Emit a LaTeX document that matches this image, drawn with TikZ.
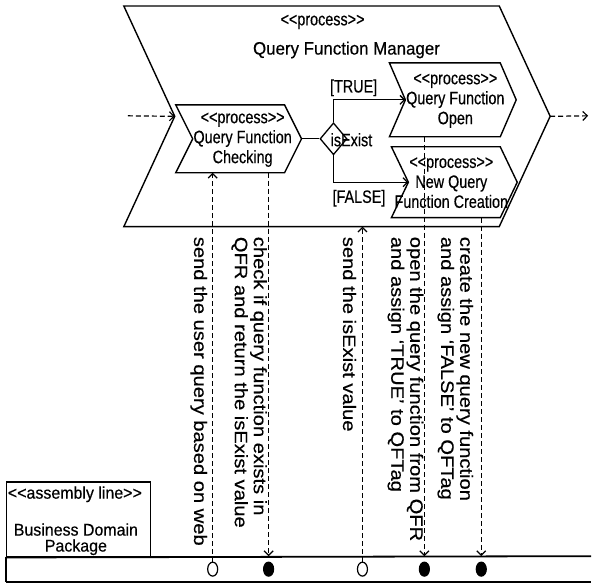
\documentclass[tikz,border=0pt]{standalone}
\usepackage{fontspec}
\setmainfont{Liberation Sans}
\newfontfamily\procfont[FakeStretch=0.8,FakeBold=0.4]{Liberation Sans}
\newfontfamily\titlefont[FakeStretch=0.94,FakeBold=0.4]{Liberation Sans}
\newfontfamily\notefont[FakeStretch=1.12,FakeBold=0.4]{Liberation Sans}
\usepackage{tikz}
\usetikzlibrary{arrows.meta,shapes.geometric,calc}
\newcommand{\stereo}[1]{<{}<#1>{}>}
\newcommand{\procshape}[2]{%
    \draw[proc] (#1.north west) -- (#1.north east) -- ($(#1.east)+(#2,0)$) coordinate (#1-tip)
        -- (#1.south east) -- (#1.south west) -- ($(#1.west)+(#2,0)$) coordinate (#1-notch) -- cycle;}

\begin{document}
\begin{tikzpicture}[x=1pt,y=-1pt,
        body/.style={rectangle,inner sep=0,outer sep=0},
        proc/.style={line width=1.4pt,line join=miter},
        proctxt/.style={font=\procfont\fontsize{18}{20}\selectfont,align=center,inner sep=0},
        flow/.style={line width=1.3pt,-{Straight Barb[length=4.5pt,width=9pt,line width=1.3pt]}},
        msg/.style={line width=1.2pt,dash pattern=on 5pt off 3pt,-{Straight Barb[length=4.5pt,width=9pt,line width=1.2pt]}},
        note/.style={rotate=-90,anchor=west,align=left,inner sep=0,font=\notefont\fontsize{18}{19}\selectfont},
        evt/.style={ellipse,draw,line width=1.2pt,minimum width=10pt,minimum height=14pt,inner sep=0,fill=white},
        lane/.style={line width=1.8pt}]
        \fill[white] (0,0) rectangle (592,586);
        \node[body,minimum width=376,minimum height=221] (mgr) at (312,116.5) {};
        \node[body,minimum width=109,minimum height=68] (chk) at (230.5,139) {};
        \node[body,minimum width=111,minimum height=74] (opn) at (445.5,100) {};
        \node[body,minimum width=109,minimum height=71] (crt) at (446.5,182.5) {};
        \procshape{mgr}{51}
        \procshape{chk}{17}
        \procshape{opn}{16}
        \procshape{crt}{17}
        \node[proctxt] (mgrst) at (323,22) {\stereo{process}};
        \node[inner sep=0,font=\titlefont\fontsize{18}{20}\selectfont] (mgrname) at (347,50) {Query Function Manager};
        \node[proctxt] (chkname) at (243,140) {\stereo{process}\\Query Function\\Checking};
        \node[proctxt] (opnname) at (456,101) {\stereo{process}\\Query Function\\Open};
        \node[proctxt] (crtname) at (452,183) {\stereo{process}\\New Query\\Function Creation};
        \node[draw,diamond,line width=1.3pt,minimum width=27,minimum height=32,inner sep=0] (isx) at (334,139) {};
        \node[proctxt,anchor=west] (isxname) at (331,140) {isExist};
        \draw[flow,-] (chk-tip) -- (isx.west);
        \draw[flow] (isx.north) |- (opn-notch) node[pos=0.64,above=3pt,proctxt] {[TRUE]};
        \draw[flow] (isx.south) |- (crt-notch) node[pos=0.67,below=7pt,proctxt] {[FALSE]};
        \coordinate (src) at (128,116);
        \coordinate (dst) at (589,116);
        \draw[msg] (src) -- (mgr-notch);
        \draw[msg] (mgr-tip) -- (dst);
        \node[draw,line width=1.3pt,minimum width=144,minimum height=75,anchor=north west,inner sep=0] (pkg) at (6,482) {};
        \node[inner sep=0,font=\titlefont\fontsize{17}{18}\selectfont] (pkgst) at (75,495) {\stereo{assembly line}};
        \node[inner sep=0,align=center,font=\titlefont\fontsize{17}{16}\selectfont] (pkgname) at (76,540) {Business Domain\\Package};
        \coordinate (lanetop) at (6,557);
        \draw[lane] (pkg.south west) -- (592,557);
        \draw[lane] (6,583) -- (592,583);
        \draw[lane] (pkg.south west) -- (6,583);
        \node[evt] (e1) at (213,570) {};
        \node[evt,fill=black] (e2) at (269,570) {};
        \node[evt] (e3) at (363,570) {};
        \node[evt,fill=black] (e4) at (425,570) {};
        \node[evt,fill=black] (e5) at (482,570) {};
        \draw[msg] (e1.north) -- (e1 |- chk.south);
        \draw[msg] (chk.south -| e2) -- (e2 |- lanetop);
        \draw[msg] (e3.north) -- (e3 |- mgr.south);
        \draw[msg] (opn.south -| e4) -- (e4 |- lanetop);
        \draw[msg] (crt.south -| e5) -- (e5 |- lanetop);
        \node[note] (n1) at (199,237) {send the user query based on web};
        \node[note] (n2) at (249.5,237) {check if query function exists in\\QFR and return the isExist value};
        \node[note] (n3) at (350,237) {send the isExist value};
        \node[note] (n4) at (406,237) {open the query function from QFR\\and assign ‘TRUE’ to QFTag};
        \node[note] (n5) at (456,237) {create the new query function\\and assign ‘FALSE’ to QFTag};
        \useasboundingbox (0,0) rectangle (592,586);
    \end{tikzpicture}
\end{document}
